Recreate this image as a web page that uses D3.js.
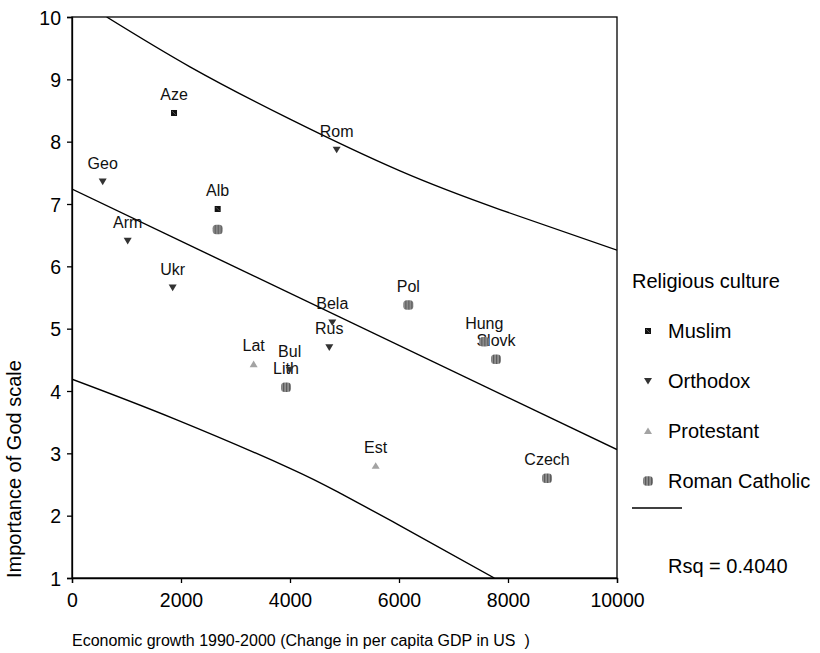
<!DOCTYPE html>
<html>
<head>
<meta charset="utf-8">
<script src="https://cdn.jsdelivr.net/npm/d3@7"></script>
<style>
  html, body { margin: 0; padding: 0; background: #fff; }
  svg { display: block; font-family: "Liberation Sans", Arial, Helvetica, sans-serif; }
</style>
</head>
<body>
<svg id="chart" width="820" height="653"></svg>
<script>
// ---- Data ----
const countries = ["Aze","Rom","Geo","Alb","","Arm","Ukr","Bela","Rus","Pol","Lat","Bul","Lith","Est","Hung","Slovk","Czech"];
const growth    = [1872, 4856, 563, 2673, 2673, 1022, 1847, 4776, 4721, 6171, 3333, 3994, 3927, 5572, 7565, 7780, 8716];
const godScale  = [8.46, 7.87, 7.36, 6.92, 6.59, 6.41, 5.66, 5.10, 4.70, 5.38, 4.43, 4.34, 4.06, 2.80, 4.79, 4.51, 2.60];
const religion  = ["Muslim","Orthodox","Orthodox","Muslim","Roman Catholic","Orthodox","Orthodox","Orthodox","Orthodox","Roman Catholic","Protestant","Orthodox","Roman Catholic","Protestant","Roman Catholic","Roman Catholic","Roman Catholic"];

const religions = ["Muslim","Orthodox","Protestant","Roman Catholic"];

// fit line and interval curves
const fitX   = [0, 10000];
const fitY   = [7.24, 3.06];
const upperX = [636, 2165, 4000, 6018, 7853, 10000];
const upperY = [10.0, 9.20, 8.36, 7.53, 6.91, 6.26];
const lowerX = [0, 1890, 4000, 4917, 6000, 7749];
const lowerY = [4.19, 3.55, 2.76, 2.36, 1.85, 1.0];

const xTicks = [0, 2000, 4000, 6000, 8000, 10000];
const yTicks = [1, 2, 3, 4, 5, 6, 7, 8, 9, 10];

const xTitle = "Economic growth 1990-2000 (Change in per capita GDP in US\u00a0\u00a0)";
const yTitle = "Importance of God scale";
const legendTitle = "Religious culture";
const rsqText = "Rsq = 0.4040";

// ---- Layout ----
const svg = d3.select("#chart");
const L = 72, R = 617, T = 17, B = 578;
const x = d3.scaleLinear().domain([0, 10000]).range([L, R]);
const y = d3.scaleLinear().domain([1, 10]).range([B, T]);

// pattern for Roman Catholic markers
const defs = svg.append("defs");
const pat = defs.append("pattern").attr("id", "rcpat").attr("patternUnits", "userSpaceOnUse")
  .attr("width", 3).attr("height", 3);
pat.append("rect").attr("width", 3).attr("height", 3).attr("fill", "#8e8e8e");
pat.append("rect").attr("width", 1.2).attr("height", 3).attr("fill", "#5a5a5a");
defs.append("clipPath").attr("id", "plotclip").append("rect")
  .attr("x", L).attr("y", T).attr("width", R - L).attr("height", B - T);

// frame
svg.append("rect").attr("x", L).attr("y", T).attr("width", R - L).attr("height", B - T)
  .attr("fill", "none").attr("stroke", "#000").attr("stroke-width", 1.3);

// axes
const xAxis = svg.append("g").attr("transform", `translate(0,${B})`)
  .call(d3.axisBottom(x).tickValues(xTicks).tickFormat(d3.format("d")).tickSize(5).tickPadding(6));
const yAxis = svg.append("g").attr("transform", `translate(${L},0)`)
  .call(d3.axisLeft(y).tickValues(yTicks).tickFormat(d3.format("d")).tickSize(5).tickPadding(6));
[xAxis, yAxis].forEach(a => {
  a.select(".domain").attr("stroke", "#000").attr("stroke-width", 1.3);
  a.selectAll(".tick line").attr("stroke", "#000").attr("stroke-width", 1.3);
  a.selectAll(".tick text").attr("fill", "#000").attr("font-size", 19.5)
    .attr("font-family", "'Liberation Sans', Arial, sans-serif");
});
xAxis.selectAll(".tick text").attr("dy", null).attr("y", 29);
yAxis.selectAll(".tick text").attr("dy", "0.36em");

// axis titles
svg.append("text").attr("x", L).attr("y", 646).attr("font-size", 16).attr("fill", "#000").text(xTitle);
svg.append("text").attr("transform", `translate(21,${B}) rotate(-90)`)
  .attr("font-size", 20).attr("fill", "#000").text(yTitle);

// lines
const plot = svg.append("g").attr("clip-path", "url(#plotclip)");
const line = d3.line().x(d => x(d[0])).y(d => y(d[1]));
const curve = d3.line().x(d => x(d[0])).y(d => y(d[1])).curve(d3.curveNatural);
plot.append("path").attr("d", line(d3.zip(fitX, fitY))).attr("fill", "none").attr("stroke", "#000").attr("stroke-width", 1.4);
plot.append("path").attr("d", curve(d3.zip(upperX, upperY))).attr("fill", "none").attr("stroke", "#000").attr("stroke-width", 1.4);
plot.append("path").attr("d", curve(d3.zip(lowerX, lowerY))).attr("fill", "none").attr("stroke", "#000").attr("stroke-width", 1.4);

// marker drawing
function drawMarker(g, rel) {
  if (rel === "Muslim") {
    g.append("rect").attr("x", -3).attr("y", -3).attr("width", 6).attr("height", 6).attr("fill", "#111");
    g.append("line").attr("x1", -1.8).attr("y1", -1.8).attr("x2", 1.8).attr("y2", 1.8)
      .attr("stroke", "#666").attr("stroke-width", 0.8);
  } else if (rel === "Orthodox") {
    g.append("path").attr("d", "M-4,-3L4,-3L0,3.6Z").attr("fill", "#333");
  } else if (rel === "Protestant") {
    g.append("path").attr("d", "M-4,3L4,3L0,-3.6Z").attr("fill", "#a3a3a3");
  } else {
    g.append("rect").attr("x", -5).attr("y", -4.7).attr("width", 10).attr("height", 9.4)
      .attr("rx", 3.5).attr("fill", "url(#rcpat)");
  }
}

const pts = countries.map((c, i) => ({ name: c, gx: growth[i], gy: godScale[i], rel: religion[i] }));

// labels
svg.append("g").selectAll("text").data(pts.filter(d => d.name)).join("text")
  .attr("x", d => x(d.gx)).attr("y", d => y(d.gy) - 13)
  .attr("text-anchor", "middle").attr("font-size", 16).attr("fill", "#111")
  .text(d => d.name);

// markers
svg.append("g").selectAll("g").data(pts).join("g")
  .attr("transform", d => `translate(${x(d.gx)},${y(d.gy)})`)
  .each(function(d) { drawMarker(d3.select(this), d.rel); });

// legend
svg.append("text").attr("x", 632).attr("y", 288).attr("font-size", 20).attr("fill", "#000").text(legendTitle);
const leg = svg.append("g").selectAll("g").data(religions).join("g")
  .attr("transform", (d, i) => `translate(0,${331 + i * 50})`);
leg.each(function(d) {
  const g = d3.select(this);
  drawMarker(g.append("g").attr("transform", "translate(648,0)"), d);
  g.append("text").attr("x", 668).attr("y", 6.8).attr("font-size", 20).attr("fill", "#000").text(d);
});
svg.append("line").attr("x1", 632).attr("x2", 682).attr("y1", 508).attr("y2", 508)
  .attr("stroke", "#000").attr("stroke-width", 1.3);
svg.append("text").attr("x", 668).attr("y", 573).attr("font-size", 20).attr("fill", "#000").text(rsqText);
</script>
</body>
</html>
